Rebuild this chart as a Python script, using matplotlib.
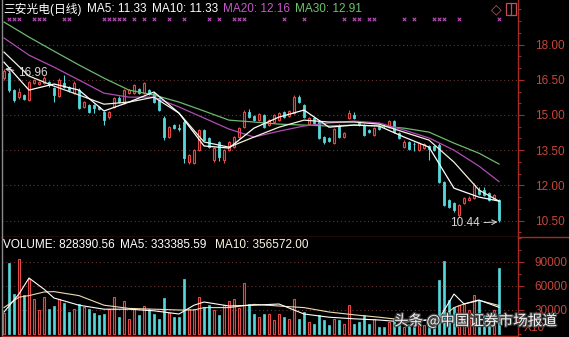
import numpy as np
import matplotlib
matplotlib.use('Agg')
import matplotlib.pyplot as plt
from matplotlib.patches import Rectangle
from matplotlib.ticker import FixedLocator, MultipleLocator
import matplotlib.patheffects as pe

plt.rcParams['font.family'] = ['Liberation Sans', 'Noto Sans CJK SC', 'DejaVu Sans']

# daily candles (三安光电), oldest -> newest
opens = [16.57, 16.79, 16.06, 15.76, 15.85, 15.64, 16.36, 16.32, 16.36, 16.40,
         16.15, 15.81, 16.36, 16.19, 15.94, 16.06, 15.34, 15.42, 15.42, 15.34,
         15.12, 14.91, 15.34, 15.72, 15.51, 15.94, 15.94, 16.10, 15.94, 16.06,
         15.94, 15.72, 14.87, 14.06, 14.57, 14.45, 14.70, 12.99, 12.95, 13.50,
         14.36, 14.02, 13.08, 13.85, 13.08, 13.50, 13.63, 14.06, 14.49, 15.12,
         14.95, 14.78, 15.00, 14.57, 14.70, 14.78, 15.12, 14.97, 15.08, 15.76,
         15.42, 14.61, 14.87, 14.70, 14.06, 14.02, 13.80, 14.57, 14.06, 14.87,
         15.00, 14.70, 14.57, 14.36, 14.14, 14.53, 14.53, 14.49, 14.74, 14.23,
         13.63, 13.85, 13.78, 13.50, 13.59, 13.67, 13.67, 13.71, 12.14, 11.37,
         11.25, 10.73, 11.24, 11.37, 11.46, 11.80, 11.80, 11.67, 11.42, 11.37]
closes = [16.87, 16.06, 15.64, 15.98, 15.68, 16.40, 16.49, 16.40, 16.57, 16.27,
          15.85, 16.49, 16.19, 16.06, 16.36, 15.30, 15.55, 15.12, 15.30, 15.25,
          14.78, 15.12, 15.72, 15.55, 16.06, 16.06, 16.27, 15.94, 16.36, 15.90,
          15.55, 15.21, 14.06, 14.49, 14.45, 14.40, 13.16, 13.29, 13.50, 14.36,
          13.93, 13.63, 13.59, 13.20, 13.50, 13.84, 14.06, 14.45, 15.12, 14.91,
          14.78, 15.04, 14.49, 14.78, 15.00, 15.08, 14.91, 15.15, 15.76, 15.55,
          14.91, 14.87, 14.66, 14.02, 13.84, 13.88, 14.40, 14.06, 14.23, 15.08,
          14.87, 14.57, 14.14, 14.28, 14.45, 14.40, 14.51, 14.74, 14.28, 14.02,
          13.85, 13.55, 13.76, 13.80, 13.76, 13.55, 13.50, 12.14, 11.16, 11.07,
          10.95, 11.16, 11.46, 11.46, 12.01, 11.63, 11.59, 11.37, 11.59, 10.52]
highs = [16.96, 16.91, 16.10, 16.15, 15.90, 16.45, 16.55, 16.45, 16.66, 16.45,
         16.20, 16.57, 16.70, 16.25, 16.45, 16.15, 15.60, 15.48, 15.47, 15.38,
         15.17, 15.17, 15.76, 15.80, 16.10, 16.12, 16.32, 16.15, 16.40, 16.10,
         15.98, 15.76, 14.95, 14.55, 14.62, 14.60, 14.78, 13.35, 13.55, 14.40,
         14.40, 14.06, 13.63, 13.90, 13.55, 13.88, 14.10, 14.50, 15.20, 15.25,
         15.00, 15.10, 15.04, 14.83, 15.04, 15.12, 15.17, 15.20, 15.85, 15.85,
         15.47, 14.91, 14.91, 14.74, 14.10, 14.06, 14.45, 14.62, 14.28, 15.21,
         15.12, 14.74, 14.62, 14.40, 14.49, 14.57, 14.60, 14.80, 14.78, 14.28,
         13.93, 13.90, 13.85, 13.85, 13.80, 13.72, 13.72, 13.80, 12.18, 11.42,
         11.30, 11.20, 11.50, 11.55, 12.10, 11.95, 11.95, 11.72, 11.63, 11.42]
lows = [16.50, 15.98, 15.55, 15.68, 15.62, 15.60, 16.30, 16.28, 16.32, 16.20,
        15.55, 15.77, 16.15, 16.00, 15.90, 15.25, 15.30, 15.08, 15.08, 15.20,
        14.57, 14.85, 15.30, 15.50, 15.45, 15.90, 15.90, 15.90, 15.90, 15.85,
        15.50, 15.15, 13.93, 14.00, 14.40, 14.30, 12.95, 12.93, 12.90, 13.45,
        13.88, 13.58, 13.00, 13.05, 12.95, 13.45, 13.58, 14.02, 14.45, 14.87,
        14.74, 14.74, 14.44, 14.53, 14.66, 14.74, 14.87, 14.93, 15.04, 15.50,
        14.87, 14.57, 14.61, 13.97, 13.78, 13.84, 13.76, 14.02, 14.02, 14.83,
        14.83, 14.53, 14.10, 14.23, 14.10, 14.36, 14.45, 14.45, 14.23, 13.97,
        13.59, 13.50, 13.45, 13.46, 13.55, 13.08, 13.46, 12.10, 11.10, 11.02,
        10.88, 10.65, 11.20, 11.33, 11.42, 11.59, 11.55, 11.33, 11.38, 10.44]
volumes = [26250, 88750, 50000, 93750, 48750, 68750, 43750, 30000, 46250, 31250,
           35000, 43750, 38750, 27500, 31250, 37500, 33750, 31250, 26250, 23750,
           25000, 31250, 46250, 21250, 41250, 18750, 32500, 23750, 35000, 31250,
           25000, 18750, 45000, 26250, 21250, 21250, 68750, 31250, 31250, 46250,
           33750, 36250, 30000, 23750, 36250, 41250, 43750, 32500, 63750, 38000,
           25000, 21250, 25000, 25000, 17500, 25000, 21250, 18750, 43750, 18750,
           27500, 15000, 12500, 23750, 17500, 11250, 18750, 17500, 12500, 36250,
           12500, 15000, 23750, 12500, 18750, 8750, 8750, 15000, 18750, 11250,
           8750, 12500, 11250, 17500, 11250, 15000, 18750, 67500, 91250, 42500,
           33750, 36250, 37500, 30000, 48750, 42500, 23750, 17500, 30000, 82839]

# moving averages at these candles
ma_idx = [0, 5, 10, 15, 20, 25, 30, 35, 40, 45, 50, 55, 60, 65, 70, 75, 80, 85, 90, 95, 99]
ma5 = [17.25, 16.06, 16.32, 16.06, 15.17, 15.55, 15.98, 15.08, 13.68, 13.59, 14.44,
       14.91, 15.21, 14.48, 14.57, 14.53, 14.06, 13.63, 11.88, 11.50, 11.33]
ma10 = [17.68, 16.66, 16.23, 15.85, 15.46, 15.55, 15.76, 15.08, 13.85, 13.63, 14.06,
        14.48, 14.78, 14.70, 14.70, 14.61, 14.27, 13.93, 12.99, 11.80, 11.33]
ma20 = [18.28, 17.55, 17.04, 16.49, 15.93, 15.76, 15.76, 15.34, 14.87, 14.40, 14.06,
        14.31, 14.53, 14.66, 14.74, 14.66, 14.36, 14.02, 13.50, 12.82, 12.16]
ma30 = [18.96, 18.32, 17.72, 17.13, 16.57, 16.06, 15.85, 15.55, 15.17, 14.78, 14.70,
        14.61, 14.57, 14.53, 14.57, 14.53, 14.44, 14.27, 13.80, 13.37, 12.91]

vol_idx = [0, 3, 5, 8, 10, 15, 20, 25, 30, 35, 38, 40, 45, 50, 55, 60, 65, 70, 75,
           80, 85, 87, 90, 92, 95, 99]
vma5 = [27500, 50000, 70000, 56000, 45000, 36000, 31000, 31000, 29000, 25000, 36000,
        40000, 35000, 36000, 37500, 25000, 21000, 19000, 17500, 15000, 17500, 19000,
        50000, 37500, 42500, 33339]
vma10 = [33000, 46000, 48000, 52500, 53000, 48000, 36000, 32000, 31000, 30000, 30000,
         33000, 33000, 37000, 35000, 33000, 27500, 24000, 21000, 17500, 17500, 17500,
         33000, 37500, 42000, 35657]

signal_idx = [1, 2, 3, 6, 7, 8, 12, 13, 20, 21, 22, 23, 24, 26, 28, 30, 33, 36, 41, 43,
              46, 47, 48, 56, 60, 68, 70, 71, 73, 74, 80, 82, 86, 87, 88, 91, 99]

price_ticks = [10.5, 12.0, 13.5, 15.0, 16.5, 18.0]
vol_ticks = [30000, 60000, 90000]

RED = '#e04a48'
CYAN = '#55d6d8'
AXRED = '#a82a26'
LBLRED = '#c8463a'
GRID = '#6a3434'

W, H = 569, 337
fig = plt.figure(figsize=(W / 100, H / 100), dpi=100, facecolor='black')

def fx(px):
    return px / W

def fy(py):
    return 1 - py / H

ax = fig.add_axes([fx(2), fy(237), fx(518) - fx(2), fy(0) - fy(237)], facecolor='black')
axv = fig.add_axes([fx(2), fy(336), fx(518) - fx(2), fy(237) - fy(336)], facecolor='black')

x = np.arange(len(opens))
o = np.array(opens); c = np.array(closes)
up = c >= o

# price panel
for lvl in price_ticks:
    ax.axhline(lvl, color=GRID, lw=0.8, ls=(0, (1, 2.5)), zorder=1)
ax.vlines(x[up], np.array(lows)[up], np.array(highs)[up], color=RED, lw=0.8, zorder=2)
ax.vlines(x[~up], np.array(lows)[~up], np.array(highs)[~up], color=CYAN, lw=0.8, zorder=2)
ax.bar(x[up], (c - o)[up], bottom=o[up], width=0.56, facecolor='#2a0606',
       edgecolor=RED, lw=0.8, zorder=3)
ax.bar(x[~up], (c - o)[~up], bottom=o[~up], width=0.56, facecolor=CYAN,
       edgecolor=CYAN, lw=0.6, zorder=3)

ax.plot(ma_idx, ma30, color='#6fb86f', lw=0.9, zorder=4)
ax.plot(ma_idx, ma20, color='#b04cb4', lw=0.9, zorder=4)
ax.plot(ma_idx, ma10, color='#f4f0e0', lw=0.9, zorder=4)
ax.plot(ma_idx, ma5, color='#ffffff', lw=0.9, zorder=4)

ax.scatter(signal_idx, [19.09] * len(signal_idx), marker='x', s=6, lw=0.8,
           color='#b84cb8', zorder=5)

ax.annotate('16.96', xy=(0.2, 16.96), xytext=(2.8, 16.79), color='#d8d8d8',
            fontsize=8.5, ha='left', va='center',
            arrowprops=dict(arrowstyle='->', color='#d8d8d8', lw=0.7,
                            shrinkA=1, shrinkB=0))
ax.annotate('10.44', xy=(98.7, 10.44), xytext=(89.2, 10.38), color='#d8d8d8',
            fontsize=8.5, ha='left', va='center',
            arrowprops=dict(arrowstyle='->', color='#d8d8d8', lw=0.7,
                            shrinkA=1, shrinkB=0))

ax.set_xlim(-0.4, 102.8)
ax.set_ylim(9.80, 19.90)

# volume panel
vol = np.array(volumes)
for lvl in vol_ticks:
    axv.axhline(lvl, color=GRID, lw=0.8, ls=(0, (1, 2.5)), zorder=1)
axv.bar(x[up], vol[up], width=0.56, facecolor='#2a0606', edgecolor=RED, lw=0.8, zorder=2)
axv.bar(x[~up], vol[~up], width=0.56, facecolor=CYAN, edgecolor=CYAN, lw=0.5, zorder=2)
axv.plot(vol_idx, vma10, color='#eedcae', lw=0.8, zorder=3)
axv.plot(vol_idx, vma5, color='#ffffff', lw=0.8, zorder=3)
axv.set_xlim(-0.4, 102.8)
axv.set_ylim(-2500, 121250)

for a in (ax, axv):
    a.set_xticks([])
    a.yaxis.tick_right()
    a.spines['top'].set_visible(False)
    a.spines['left'].set_color('#8a8a8a')
    a.spines['right'].set_color(AXRED)
    a.spines['bottom'].set_color(AXRED)
    for s in a.spines.values():
        s.set_linewidth(1.0)
    a.tick_params(axis='y', which='major', colors=AXRED, labelcolor=LBLRED,
                  length=4, width=0.8, pad=8, labelsize=8.5)
    a.tick_params(axis='y', which='minor', colors=AXRED, length=2, width=0.8)

ax.yaxis.set_major_locator(FixedLocator(price_ticks))
ax.yaxis.set_minor_locator(MultipleLocator(0.5))
ax.set_yticklabels([f'{t:.2f}' for t in price_ticks])
axv.yaxis.set_major_locator(FixedLocator(vol_ticks))
axv.yaxis.set_minor_locator(MultipleLocator(15000))
axv.set_yticklabels([str(t) for t in vol_ticks])

fig.text(fx(524), fy(328), 'X10', color=LBLRED, fontsize=8.5, va='center', ha='left')
fig.add_artist(plt.Line2D([fx(518), fx(569)], [fy(237), fy(237)], color=AXRED, lw=1.0))

# header texts
hy = fy(9)
fig.text(fx(3), hy, '三安光电(日线)', color='white', fontsize=8.5, va='center')
fig.text(fx(87), hy, 'MA5: 11.33', color='white', fontsize=8.5, va='center')
fig.text(fx(152), hy, 'MA10: 11.33', color='white', fontsize=8.5, va='center')
fig.text(fx(223), hy, 'MA20: 12.16', color='#c458c8', fontsize=8.5, va='center')
fig.text(fx(295), hy, 'MA30: 12.91', color='#6cc46c', fontsize=8.5, va='center')

vy = fy(245)
fig.text(fx(3), vy, 'VOLUME: 828390.56', color='white', fontsize=8.5, va='center')
fig.text(fx(120), vy, 'MA5: 333385.59', color='white', fontsize=8.5, va='center')
fig.text(fx(215), vy, 'MA10: 356572.00', color='#fbf6e4', fontsize=8.5, va='center')

# little icons at top right
fig.text(fx(496), fy(9), '◇', color='#c05058', fontsize=10, ha='center', va='center',
         family=['DejaVu Sans'])
fig.add_artist(Rectangle((fx(506), fy(15)), fx(10), fy(3) - fy(15), fill=False,
                         edgecolor='#c05058', lw=0.9, transform=fig.transFigure))
fig.add_artist(plt.Line2D([fx(511), fx(511)], [fy(15), fy(3)], color='#c05058', lw=0.9))

# watermark
fig.text(fx(394), fy(321), '头条 @中国证券市场报道', color='white', alpha=0.92,
         fontsize=10.5, va='center', ha='left',
         family=['Noto Sans CJK SC', 'DejaVu Sans'],
         path_effects=[pe.withStroke(linewidth=1.8, foreground='#404040')])

fig.savefig('out.png', dpi=100, facecolor='black')
